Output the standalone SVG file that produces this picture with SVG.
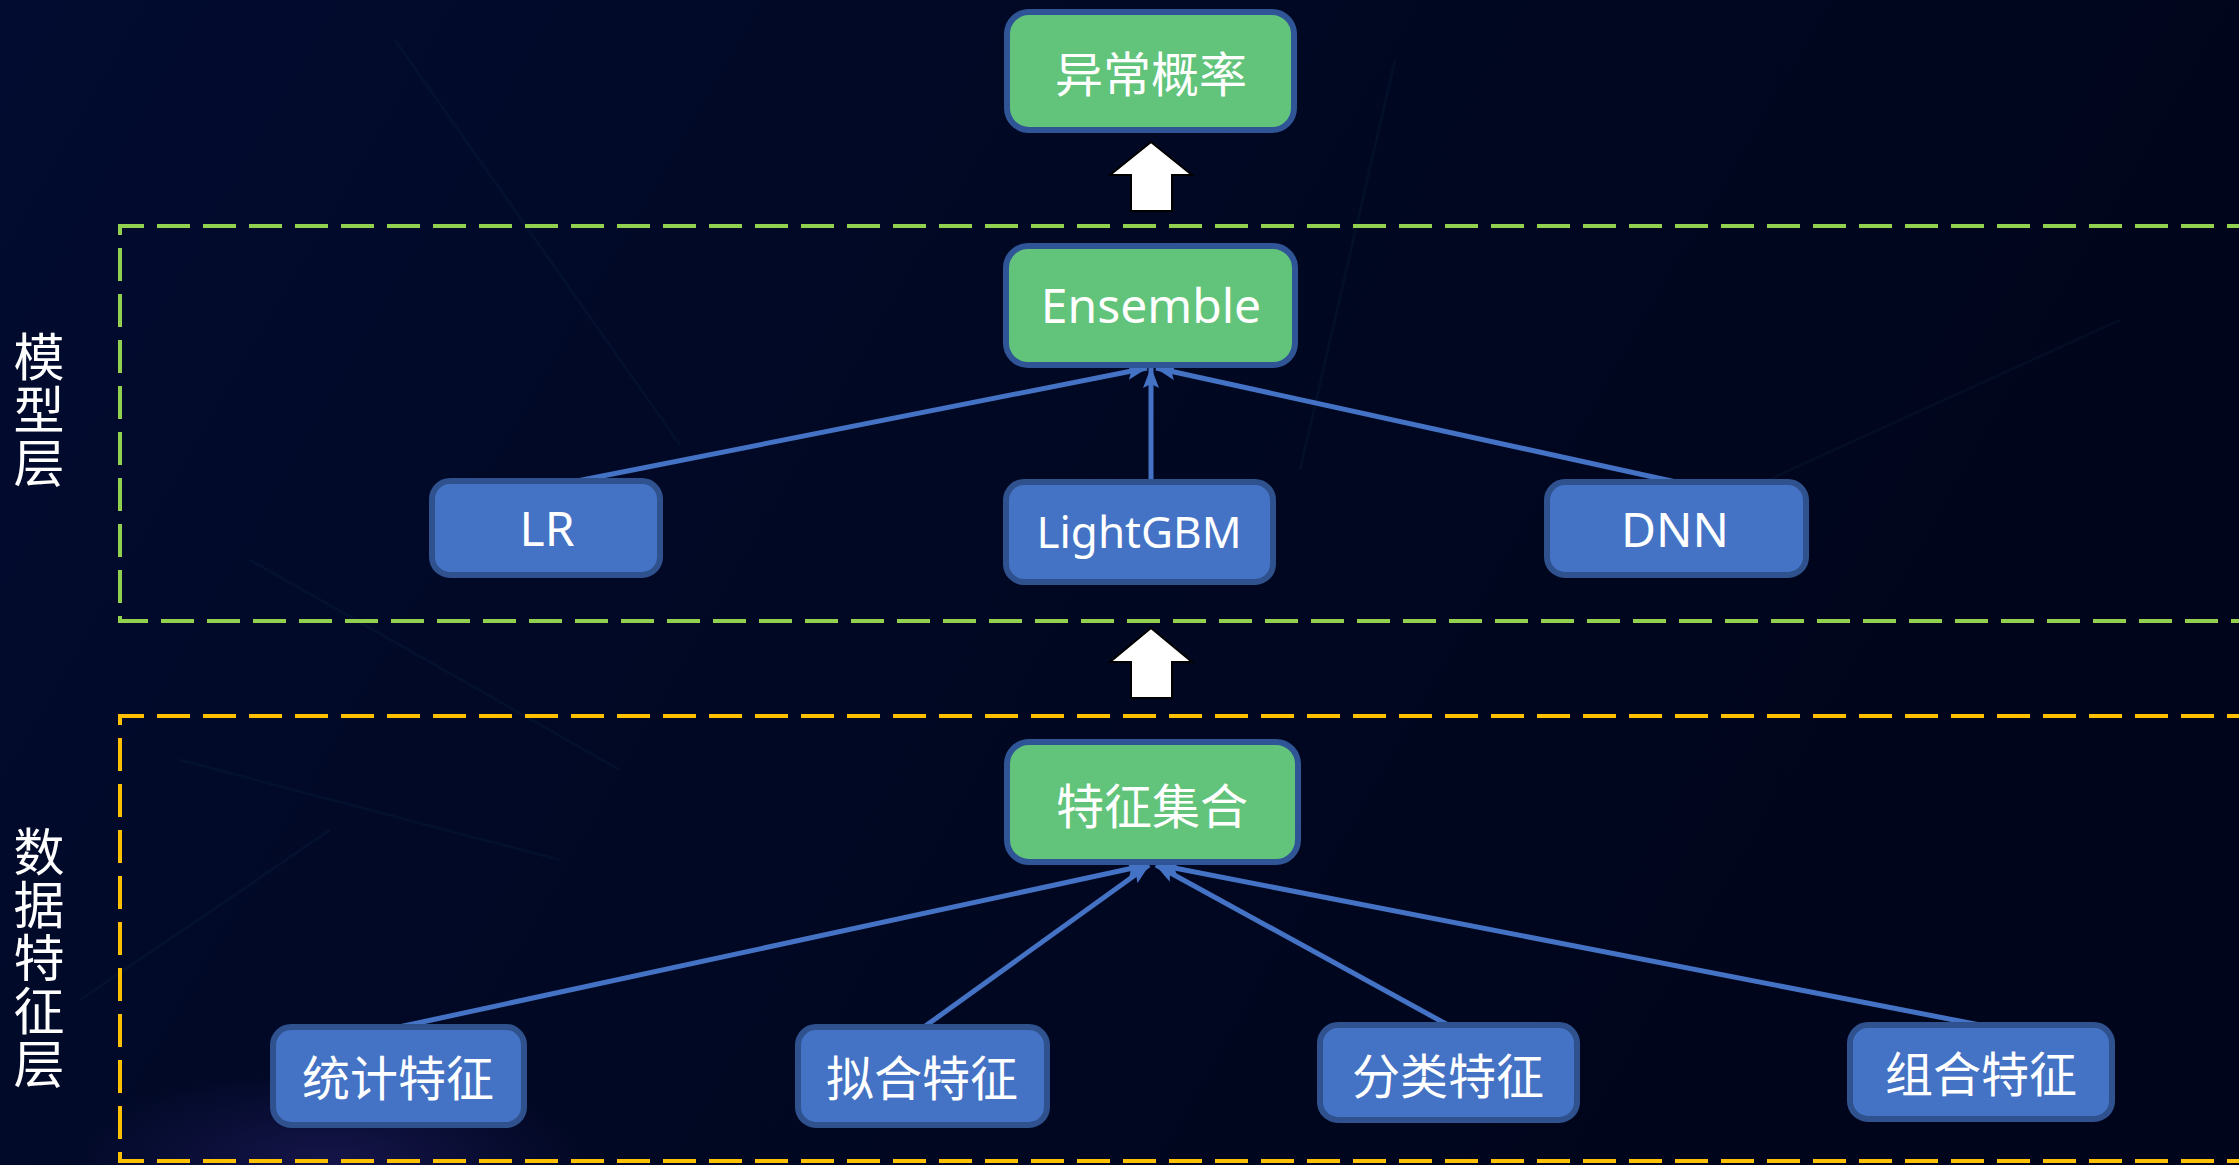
<svg xmlns="http://www.w3.org/2000/svg" width="2239" height="1165" viewBox="0 0 2239 1165">
  <defs>
    <linearGradient id="bg" x1="0" y1="0" x2="1" y2="0.3">
      <stop offset="0" stop-color="#020c30"/>
      <stop offset="0.5" stop-color="#010823"/>
      <stop offset="1" stop-color="#00051b"/>
    </linearGradient>
    <radialGradient id="glow" cx="0.5" cy="0.5" r="0.5">
      <stop offset="0" stop-color="#3a2a8a" stop-opacity="0.35"/>
      <stop offset="1" stop-color="#3a2a8a" stop-opacity="0"/>
    </radialGradient>
    <marker id="head" markerUnits="userSpaceOnUse" markerWidth="22" markerHeight="16" refX="20" refY="8" orient="auto">
      <path d="M0,0 L21,8 L0,16 L4,8 z" fill="#4472C4"/>
    </marker>
    <style>
      .green rect { fill: #62C37B; stroke: #2F5597; stroke-width: 6; }
      .blue rect { fill: #4472C4; stroke: #2F528F; stroke-width: 6; }
      .cjk { font-family: "Noto Sans CJK SC", "Noto Sans", sans-serif; font-size: 48px; fill: #ffffff; text-anchor: middle; dominant-baseline: central; }
      .lat { font-family: "Noto Sans", "Open Sans", sans-serif; font-size: 48px; fill: #ffffff; text-anchor: middle; }
      .side { font-family: "Noto Sans CJK SC", sans-serif; font-size: 51px; fill: #ffffff; writing-mode: vertical-rl; letter-spacing: 2px; }
      .link { stroke: #4472C4; stroke-width: 5; fill: none; marker-end: url(#head); }
      .block { fill: #ffffff; stroke: #000000; stroke-width: 2; stroke-linejoin: miter; }
      .streak { stroke: #1a4a6a; stroke-width: 3; fill: none; opacity: 0.1; }
    </style>
  </defs>

  <!-- backdrop -->
  <rect width="2239" height="1165" fill="url(#bg)"/>
  <ellipse cx="330" cy="1160" rx="260" ry="90" fill="url(#glow)"/>
  <g id="streaks">
    <path class="streak" d="M395,40 L680,445"/>
    <path class="streak" d="M250,560 L620,770"/>
    <path class="streak" d="M180,760 L560,860"/>
    <path class="streak" d="M1395,60 L1300,470"/>
    <path class="streak" d="M2120,320 L1680,520"/>
    <path class="streak" d="M80,1000 L330,830"/>
  </g>

  <!-- layer frames -->
  <g id="layer-model">
    <path d="M2260,226 H120 V621 H2260" fill="none" stroke="#92D050" stroke-width="4" stroke-dasharray="33 13"/>
    <text class="side" x="39" y="331">模型层</text>
  </g>
  <g id="layer-data">
    <path d="M2260,716 H120 V1161 H2260" fill="none" stroke="#FFC000" stroke-width="4" stroke-dasharray="33 13"/>
    <text class="side" x="39" y="826">数据特征层</text>
  </g>

  <!-- connectors -->
  <g id="connectors">
    <line class="link" x1="577" y1="481" x2="1147" y2="368"/>
    <line class="link" x1="1151" y1="482" x2="1151" y2="368"/>
    <line class="link" x1="1676" y1="482" x2="1156" y2="368"/>
    <line class="link" x1="399" y1="1027" x2="1147" y2="865"/>
    <line class="link" x1="924" y1="1027" x2="1149" y2="865"/>
    <line class="link" x1="1448" y1="1025" x2="1156" y2="865"/>
    <line class="link" x1="1980" y1="1025" x2="1159" y2="865"/>
    <polygon class="block" points="1151,142 1192,175 1172,175 1172,211 1131,211 1131,175 1110,175"/>
    <polygon class="block" points="1151,628 1192,662 1172,662 1172,698 1131,698 1131,662 1110,662"/>
  </g>

  <!-- nodes -->
  <g id="node-anomaly-prob" class="green">
    <rect x="1007" y="12" width="287" height="118" rx="22"/>
    <text class="cjk" x="1151" y="71">异常概率</text>
  </g>
  <g id="node-ensemble" class="green">
    <rect x="1006" y="246" width="289" height="119" rx="22"/>
    <text class="lat" x="1151" y="323">Ensemble</text>
  </g>
  <g id="node-lr" class="blue">
    <rect x="432" y="481" width="228" height="94" rx="18"/>
    <text class="lat" x="547" y="546">LR</text>
  </g>
  <g id="node-lightgbm" class="blue">
    <rect x="1006" y="482" width="267" height="100" rx="18"/>
    <text class="lat" x="1139" y="548" style="font-size:44px">LightGBM</text>
  </g>
  <g id="node-dnn" class="blue">
    <rect x="1547" y="482" width="259" height="93" rx="18"/>
    <text class="lat" x="1675" y="547">DNN</text>
  </g>
  <g id="node-feature-set" class="green">
    <rect x="1007" y="742" width="291" height="120" rx="22"/>
    <text class="cjk" x="1152" y="803">特征集合</text>
  </g>
  <g id="node-stat" class="blue">
    <rect x="273" y="1027" width="251" height="98" rx="18"/>
    <text class="cjk" x="398" y="1075">统计特征</text>
  </g>
  <g id="node-fit" class="blue">
    <rect x="798" y="1027" width="249" height="98" rx="18"/>
    <text class="cjk" x="922" y="1075">拟合特征</text>
  </g>
  <g id="node-category" class="blue">
    <rect x="1320" y="1025" width="257" height="95" rx="18"/>
    <text class="cjk" x="1448" y="1073">分类特征</text>
  </g>
  <g id="node-combo" class="blue">
    <rect x="1850" y="1025" width="262" height="94" rx="18"/>
    <text class="cjk" x="1981" y="1071">组合特征</text>
  </g>
</svg>
